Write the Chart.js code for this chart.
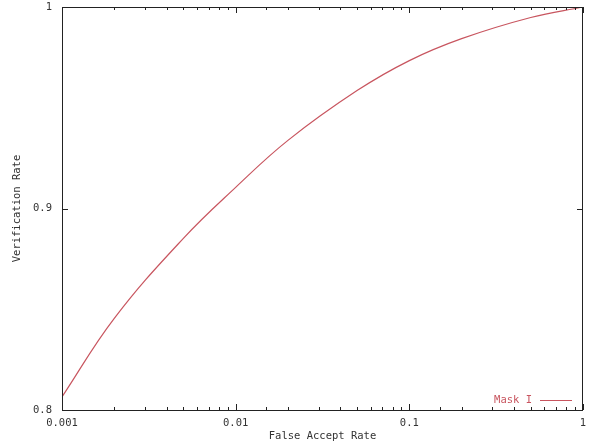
<!DOCTYPE html>
<html>
<head>
<meta charset="utf-8">
<script src="https://cdn.jsdelivr.net/npm/chart.js@4"></script>
<style>
  html, body { margin: 0; padding: 0; background: #fff; }
  #wrap { width: 595px; height: 444px; }
</style>
</head>
<body>
<div id="wrap"><canvas id="myChart" width="595" height="444"></canvas></div>
<script>
// values
const falseAcceptRate = [0.001, 0.002, 0.005, 0.01, 0.02, 0.05, 0.1, 0.2, 0.5, 1];
const verificationRate = [0.8065, 0.8455, 0.8852, 0.9105, 0.9338, 0.9585, 0.9734, 0.9843, 0.9948, 1.0];
const xMajorTicks = [0.001, 0.01, 0.1, 1];
const yTicks = [0.8, 0.9, 1];
const seriesName = 'Mask I';

const lineColor = '#c8555f';
const textColor = '#333';
const font = { family: "'DejaVu Sans Mono', monospace", size: 10.5 };

const isMajor = v => xMajorTicks.some(m => Math.abs(m - v) < m * 1e-6);

// gnuplot style frame with inward ticks and an in-plot key
const framePlugin = {
    id: 'frame',
    afterDraw(chart) {
        const ctx = chart.ctx;
        const a = chart.chartArea;
        const xs = chart.scales.x, ys = chart.scales.y;
        ctx.save();
        ctx.strokeStyle = '#222';
        ctx.lineWidth = 1;
        ctx.strokeRect(a.left + 0.5, a.top + 0.5, a.right - a.left - 1, a.bottom - a.top);
        ctx.beginPath();
        xs.ticks.forEach(t => {
            const px = Math.round(xs.getPixelForValue(t.value)) + 0.5;
            const len = isMajor(t.value) ? 6 : 3;
            ctx.moveTo(px, a.bottom); ctx.lineTo(px, a.bottom - len);
            ctx.moveTo(px, a.top); ctx.lineTo(px, a.top + len);
        });
        yTicks.forEach(v => {
            const py = Math.round(ys.getPixelForValue(v)) + 0.5;
            ctx.moveTo(a.left, py); ctx.lineTo(a.left + 6, py);
            ctx.moveTo(a.right, py); ctx.lineTo(a.right - 6, py);
        });
        ctx.stroke();

        // key
        const ky = a.bottom - 10;
        ctx.fillStyle = lineColor;
        ctx.font = font.size + 'px ' + font.family;
        ctx.textAlign = 'right';
        ctx.textBaseline = 'middle';
        ctx.fillText(seriesName, a.right - 51, ky);
        ctx.strokeStyle = lineColor;
        ctx.beginPath();
        ctx.moveTo(a.right - 43, ky + 0.5);
        ctx.lineTo(a.right - 11, ky + 0.5);
        ctx.stroke();
        ctx.restore();
    }
};

var ctx = document.getElementById('myChart').getContext('2d');
var chart = new Chart(ctx, {
    type: 'line',
    data: {
        datasets: [{
            label: seriesName,
            data: falseAcceptRate.map((x, i) => ({ x: x, y: verificationRate[i] })),
            borderColor: lineColor,
            borderWidth: 1.2,
            pointRadius: 0,
            fill: false,
            tension: 0.4
        }]
    },
    options: {
        responsive: false,
        animation: false,
        layout: { padding: { left: 0, right: 12, top: 7, bottom: 0 } },
        plugins: {
            legend: { display: false },
            tooltip: { enabled: false }
        },
        scales: {
            x: {
                type: 'logarithmic',
                min: 0.001,
                max: 1,
                grid: { display: false, drawTicks: false },
                border: { display: false },
                ticks: {
                    autoSkip: false,
                    maxRotation: 0,
                    padding: 7,
                    color: textColor,
                    font: font,
                    callback: v => isMajor(v) ? String(v) : ''
                },
                title: {
                    display: true,
                    text: 'False Accept Rate',
                    color: textColor,
                    font: font,
                    padding: { top: 0, bottom: 1 }
                },
                afterFit: s => { s.height = 34; s.paddingLeft = 0; s.paddingRight = 0; }
            },
            y: {
                type: 'linear',
                min: 0.8,
                max: 1,
                grid: { display: false, drawTicks: false },
                border: { display: false },
                afterBuildTicks: s => { s.ticks = yTicks.map(v => ({ value: v })); },
                ticks: {
                    padding: 10,
                    color: textColor,
                    font: font,
                    callback: v => String(+v.toFixed(2))
                },
                title: {
                    display: true,
                    text: 'Verification Rate',
                    color: textColor,
                    font: font,
                    padding: { top: 11, bottom: 0 }
                },
                afterFit: s => { s.width = 62; s.paddingTop = 0; s.paddingBottom = 0; }
            }
        }
    },
    plugins: [framePlugin]
});
</script>
</body>
</html>
